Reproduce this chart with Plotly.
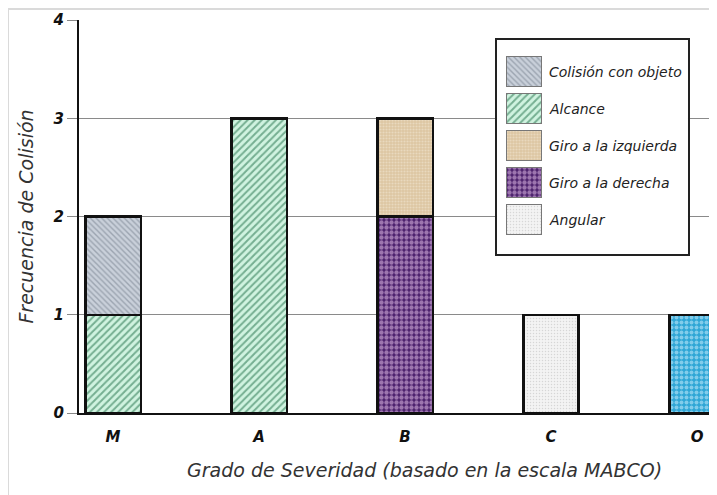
import plotly.graph_objects as go

# ---------------- data ----------------
categories = ["M", "A", "B", "C", "O"]
colision_objeto = [1, None, None, None, None]
alcance = [1, 3, None, None, None]
giro_izquierda = [None, None, 1, None, None]
giro_derecha = [None, None, 2, None, None]
angular = [None, None, None, 1, None]
otro = [None, None, None, None, 1]

y_ticks = [0, 1, 2, 3, 4]
legend_names = ["Colisión con objeto", "Alcance", "Giro a la izquierda",
                "Giro a la derecha", "Angular"]

# ---------------- styles ----------------
FONT = "DejaVu Sans"
patterns = {
    "Colisión con objeto": dict(shape="\\", bgcolor="#c9d0da", fgcolor="#6f7988", size=4, solidity=0.35),
    "Alcance": dict(shape="/", bgcolor="#d0f3e0", fgcolor="#1a6a42", size=5, solidity=0.4),
    "Giro a la izquierda": dict(shape=".", bgcolor="#dcc6a2", fgcolor="#f5ebda", size=3, solidity=0.4),
    "Giro a la derecha": dict(shape=".", bgcolor="#4a1f6b", fgcolor="#f0cdf4", size=5, solidity=0.6),
    "Angular": dict(shape=".", bgcolor="#f3f3f3", fgcolor="#b9b9b9", size=3, solidity=0.2),
    "Otro": dict(shape=".", bgcolor="#2fa6d6", fgcolor="#d6f2ff", size=5, solidity=0.5),
}
series = {
    "Colisión con objeto": colision_objeto,
    "Alcance": alcance,
    "Giro a la izquierda": giro_izquierda,
    "Giro a la derecha": giro_derecha,
    "Angular": angular,
    "Otro": otro,
}
stack_order = ["Alcance", "Colisión con objeto", "Giro a la derecha",
               "Giro a la izquierda", "Angular", "Otro"]

fig = go.Figure()
for name in stack_order:
    fig.add_trace(go.Bar(
        x=categories, y=series[name], name=name, showlegend=False,
        marker=dict(color=patterns[name]["bgcolor"], pattern=patterns[name],
                    line=dict(color="#111111", width=2.5)),
        xaxis="x", yaxis="y",
    ))

# ---------- legend drawn as an inset subplot ----------
for name in legend_names:
    fig.add_trace(go.Bar(
        x=[1], y=[name], orientation="h", showlegend=False, width=0.81,
        marker=dict(color=patterns[name]["bgcolor"], pattern=patterns[name],
                    line=dict(color="#777777", width=1)),
        xaxis="x2", yaxis="y2", hoverinfo="skip",
    ))
    fig.add_annotation(x=1.17, y=name, xref="x2", yref="y2", text=name,
                       showarrow=False, xanchor="left", yanchor="middle",
                       font=dict(family=FONT, size=14, color="#222222", style="italic"))

# page body has an 8px margin: figure is sized so it fills the window
fig.update_layout(
    width=709, height=487,
    margin=dict(l=71, r=0, t=12, b=82),
    paper_bgcolor="white", plot_bgcolor="#ffffff",
    barmode="stack", bargap=0.62,
    font=dict(family=FONT, color="#222222"),
    xaxis=dict(
        type="category", categoryorder="array", categoryarray=categories,
        range=[-0.233, 4.137], showline=True, linecolor="#111111", linewidth=2,
        ticks="", showgrid=False, zeroline=False, ticklabelstandoff=9,
        tickfont=dict(family=FONT, size=15, color="#111111", style="italic", weight="bold"),
    ),
    yaxis=dict(
        range=[0, 4], tickvals=y_ticks, showline=True, linecolor="#111111", linewidth=2,
        ticks="outside", ticklen=10, tickcolor="#888888", tickwidth=1,
        showgrid=True, gridcolor="#8a8a8a", gridwidth=1, zeroline=False,
        tickfont=dict(family=FONT, size=15, color="#111111", style="italic", weight="bold"),
        title=dict(text="Frecuencia de Colisión", standoff=14,
                   font=dict(family=FONT, size=19, color="#333333", style="italic")),
    ),
    xaxis2=dict(domain=[0.6552, 0.9545], anchor="y2", range=[-0.257, 5.2],
                showline=True, mirror=True, linecolor="#222222", linewidth=1.5,
                showticklabels=False, showgrid=False, zeroline=False, ticks=""),
    yaxis2=dict(domain=[0.4046, 0.949], anchor="x2", type="category",
                categoryorder="array", categoryarray=legend_names,
                range=[4.92, -0.86],
                showline=True, mirror=True, linecolor="#222222", linewidth=1.5,
                showticklabels=False, showgrid=False, zeroline=False, ticks=""),
    shapes=[dict(type="rect", xref="paper", yref="paper",
                 x0=-0.1113, x1=1.2, y0=-0.4, y1=1.028,
                 line=dict(color="#dadada", width=2), layer="above")],
)

fig.add_annotation(text="Grado de Severidad (basado en la escala MABCO)",
                   xref="paper", yref="paper", x=0.542, y=0, yshift=-57,
                   showarrow=False, xanchor="center", yanchor="middle",
                   font=dict(family=FONT, size=19, color="#333333", style="italic"))

fig.write_html("out.html")
